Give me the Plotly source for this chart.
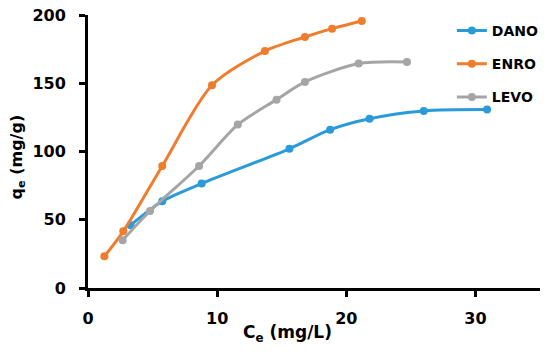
import plotly.graph_objects as go

dano_x = [3.3, 5.75, 8.8, 15.6, 18.75, 21.8, 26.0, 30.9]
dano_y = [46, 63.5, 76.5, 102, 116, 124, 129.7, 130.7]
enro_x = [1.27, 2.73, 5.75, 9.6, 13.7, 16.8, 18.9, 21.2]
enro_y = [23.2, 41.5, 89.4, 148.5, 173.6, 183.9, 190, 195.6]
levo_x = [2.68, 4.8, 8.6, 11.6, 14.6, 16.8, 20.96, 24.7]
levo_y = [35, 56.4, 89.4, 119.7, 138, 151, 164.4, 165.6]

series = [
    ("DANO", dano_x, dano_y, "#2a9ad8"),
    ("ENRO", enro_x, enro_y, "#f07c2e"),
    ("LEVO", levo_x, levo_y, "#a5a5a5"),
]

FONT = "DejaVu Sans"
fig = go.Figure()
for name, xs, ys, c in series:
    fig.add_trace(go.Scatter(
        x=xs, y=ys, name=name, legendgroup=name, mode="lines+markers",
        line=dict(color=c, width=3, shape="spline", smoothing=0.8),
        marker=dict(color=c, size=8),
    ))

fig.update_layout(
    width=542, height=347,
    margin=dict(l=80, r=6, t=7, b=67),
    plot_bgcolor="white", paper_bgcolor="white",
    font=dict(family=FONT, color="black"),
    showlegend=True,
    legend=dict(x=0.805, y=1.0, xanchor="left", yanchor="top",
                font=dict(family=FONT, size=14, color="black", weight="bold"),
                bgcolor="rgba(0,0,0,0)", itemwidth=30, tracegroupgap=12),
    xaxis=dict(range=[0, 35], tickvals=[0, 10, 20, 30], showgrid=False, zeroline=False,
               showline=True, linecolor="black", linewidth=3, automargin=False,
               ticks="outside", ticklen=6, tickwidth=3, tickcolor="black",
               ticklabeloverflow="allow", ticklabelstandoff=8,
               tickfont=dict(family=FONT, size=16, weight="bold")),
    yaxis=dict(range=[0, 200], tickvals=[0, 50, 100, 150, 200], showgrid=False, zeroline=False,
               showline=True, linecolor="black", linewidth=3, automargin=False,
               ticks="outside", ticklen=6, tickwidth=3, tickcolor="black",
               ticklabeloverflow="allow", ticklabelstandoff=10,
               tickfont=dict(family=FONT, size=16, weight="bold")),
    annotations=[
        dict(text="C<sub>e</sub> (mg/L)", xref="paper", yref="paper", x=(289-88)/456, y=-0.168,
             xanchor="center", yanchor="middle", showarrow=False,
             font=dict(family=FONT, size=17, weight="bold")),
        dict(text="q<sub>e</sub> (mg/g)", xref="paper", yref="paper", x=-0.156, y=0.48,
             xanchor="center", yanchor="middle", showarrow=False, textangle=-90,
             font=dict(family=FONT, size=16, weight="bold")),
    ],
)
fig.write_html("out.html")
